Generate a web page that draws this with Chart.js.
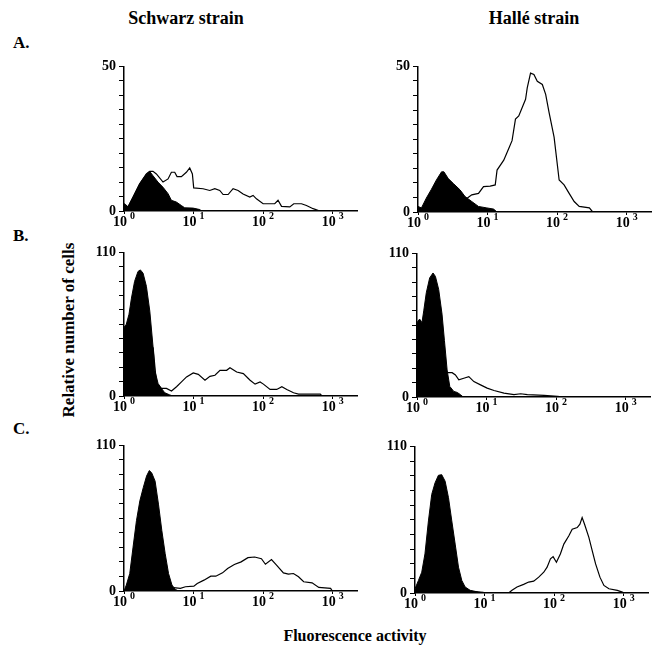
<!DOCTYPE html>
<html>
<head>
<meta charset="utf-8">
<script src="https://cdn.jsdelivr.net/npm/chart.js@4"></script>
<style>
  body { margin: 0; background: #fff; }
  #page { position: relative; width: 658px; height: 646px; overflow: hidden; font-family: 'Liberation Serif', 'Times New Roman', serif; font-weight: bold; color: #000; }
  .txt { position: absolute; white-space: nowrap; }
  canvas { position: absolute; }
</style>
</head>
<body>
<div id="page">
  <div class="txt" style="left:186px; top:18px; font-size:18px; transform:translate(-50%,-50%);">Schwarz strain</div>
  <div class="txt" style="left:534px; top:18px; font-size:18px; transform:translate(-50%,-50%);">Hallé strain</div>
  <div class="txt" style="left:13px; top:33px; font-size:17px;">A.</div>
  <div class="txt" style="left:13px; top:226px; font-size:17px;">B.</div>
  <div class="txt" style="left:13px; top:419px; font-size:17px;">C.</div>
  <div class="txt" style="left:69px; top:330px; font-size:17px; transform:translate(-50%,-50%) rotate(-90deg);">Relative number of cells</div>
  <div class="txt" style="left:355px; top:636px; font-size:16px; transform:translate(-50%,-50%);">Fluorescence activity</div>

  <canvas id="aLeft"></canvas>
  <canvas id="aRight"></canvas>
  <canvas id="bLeft"></canvas>
  <canvas id="bRight"></canvas>
  <canvas id="cLeft"></canvas>
  <canvas id="cRight"></canvas>
</div>

<script>
// ======================= Datos (fluorescencia / número de células) =======================
const decadeTicks = [1, 10, 100, 1000];
const decadeExp = ['0', '1', '2', '3'];

// A - Schwarz
const aLeftNegX = [1, 1.14, 1.35, 1.68, 2.10, 2.34, 2.61, 3.08, 3.64, 4.30, 4.80, 5.66, 6.68, 7.46, 9.84, 12.3, 13.0];
const aLeftNegY = [2.5, 1.4, 4.8, 9.4, 12.8, 13.7, 12.2, 10, 8.2, 6, 3.7, 3.1, 1.9, 1.1, 1, 0.5, 0];
const aLeftPosX = [1, 1.14, 1.35, 1.68, 2.10, 2.34, 2.61, 2.92, 3.64, 4.30, 4.80, 5.36, 5.79, 6.68, 7.88, 8.81, 9.62, 10.05, 13.7, 17.1, 20.2, 23.8, 26.6, 31.4, 37.0, 43.7, 51.5, 64.3, 71.8, 80.2, 100, 147, 164, 184, 242, 276, 356, 420, 524, 654];
const aLeftPosY = [2.5, 1.4, 4.8, 9.4, 12.8, 13.7, 13.7, 12.8, 10, 11.1, 13.4, 13.4, 11.9, 11.9, 13.4, 14.9, 12.8, 8, 7.7, 7.1, 7.7, 7.1, 5.7, 5.7, 7.7, 7.1, 5.9, 4.8, 5.4, 4.2, 2.5, 2.5, 3.7, 1.6, 1.4, 2.5, 2.5, 1.9, 0.8, 0];

// A - Hallé
const aRightNegX = [1, 1.12, 1.32, 1.56, 1.84, 2.18, 2.36, 2.72, 3.22, 4.02, 4.75, 5.93, 7.41, 9.78, 12.2, 13.7];
const aRightNegY = [1.9, 1.4, 4.8, 7.8, 11, 13.8, 13.8, 11.5, 9.8, 7.6, 5.3, 3.6, 1.9, 1.4, 1, 0];
const aRightPosX = [4.49, 5.93, 7.41, 8.75, 10.9, 12.9, 13.7, 17.1, 20.1, 22.5, 25.2, 28.1, 31.5, 35.2, 37.2, 41.5, 46.4, 51.9, 61.3, 68.5, 76.6, 90.5, 107, 126, 149, 176, 208, 291, 325];
const aRightPosY = [3.8, 5.9, 6.4, 8.7, 8.9, 9.3, 14.4, 17.8, 21.7, 24.5, 31.9, 33, 35.9, 38.7, 42.6, 47.7, 47.2, 44.9, 43.8, 40.4, 34.2, 25.7, 11, 9.3, 6.4, 3.6, 1.9, 1.4, 0];

// B - Schwarz
const bLeftNegX = [1, 1.08, 1.18, 1.28, 1.42, 1.59, 1.72, 1.88, 2.10, 2.35, 2.62, 2.77, 3.09, 3.45, 3.86, 4.56, 5.09];
const bLeftNegY = [52.5, 55, 62.6, 75, 87.8, 95.4, 96.6, 94.1, 84, 65, 37.3, 19.7, 9.6, 5.8, 2.5, 0.8, 0];
const bLeftPosX = [2.62, 2.93, 3.45, 4.08, 4.82, 5.69, 6.71, 7.93, 9.89, 11.7, 14.6, 17.2, 20.3, 24.0, 29.9, 33.4, 41.7, 52.0, 65.0, 76.7, 90.5, 101, 126, 157, 186, 219, 274, 323, 664, 702];
const bLeftPosY = [37.3, 9.6, 5.8, 5.8, 3.8, 7.1, 10.8, 14.6, 17.7, 16.6, 12.1, 15.1, 15.9, 19.7, 19.7, 21.7, 18.4, 17.2, 12.1, 9.1, 10.8, 9.1, 5, 5, 7.1, 5, 2.5, 1.5, 1.5, 0];

// B - Hallé
const bRightNegX = [1, 1.09, 1.18, 1.25, 1.36, 1.52, 1.70, 1.84, 2.05, 2.29, 2.48, 2.71, 2.96, 3.38, 3.78, 4.22, 4.61];
const bRightNegY = [57, 59.7, 57, 66, 79.8, 91.2, 95, 92.4, 82.4, 63.5, 43.3, 20.7, 8.1, 4.3, 3.5, 1.8, 0];
const bRightPosX = [2.56, 3.20, 3.57, 3.99, 4.71, 5.56, 6.57, 8.19, 10.2, 12.8, 17.8, 24.8, 30.9, 38.6, 67.1, 105, 130];
const bRightPosY = [18.6, 18.6, 16.9, 13.1, 14.4, 15.6, 11.8, 9.3, 6.8, 5, 3, 1.8, 2.5, 1.8, 1.3, 0.5, 0];

// C - Schwarz
const cLeftNegX = [1, 1.08, 1.21, 1.35, 1.51, 1.69, 1.89, 2.11, 2.31, 2.50, 2.80, 3.13, 3.50, 3.91, 4.37, 4.89, 5.47, 6.11];
const cLeftNegY = [0, 4.5, 13.2, 33.2, 53.1, 68.1, 78, 86.8, 91, 89.3, 83, 65.6, 45.6, 28.2, 13.2, 4.5, 1.2, 0];
const cLeftPosX = [5.17, 6.47, 7.65, 10.1, 11.3, 14.1, 17.7, 20.9, 26.1, 30.9, 38.6, 48.3, 60.5, 75.6, 94.6, 108, 132, 156, 196, 231, 273, 323, 383, 506, 632, 935, 989];
const cLeftPosY = [2.5, 2, 3.2, 3.7, 5.7, 8.2, 11.2, 11.2, 13.7, 17, 20, 22, 25.2, 25.7, 24.4, 20.2, 23.7, 19.5, 13.7, 12.7, 13.2, 10.7, 7, 6.2, 2.7, 2, 0];

// C - Hallé
const cRightNegX = [1, 1.12, 1.25, 1.39, 1.56, 1.74, 1.94, 2.17, 2.42, 2.71, 3.03, 3.38, 3.78, 4.22, 4.71, 5.26, 6.21, 8.19, 9.67];
const cRightNegY = [3.2, 9.4, 15.6, 29.3, 54.1, 74, 82.6, 88.3, 88.8, 83.9, 71.5, 54.1, 36.7, 19.4, 9.4, 4.5, 2, 0.7, 0];
const cRightPosX = [5.26, 9.67, 22.2, 24.8, 29.3, 36.5, 43.1, 50.9, 60.1, 71.0, 79.3, 88.6, 96.8, 108, 123, 138, 163, 182, 215, 235, 253, 274, 316, 353, 395, 456, 520, 614, 811, 957, 1010];
const cRightPosY = [1.5, 0.5, 0, 2, 4.5, 6.5, 8.2, 8.9, 11.9, 15.6, 19.4, 25.6, 27.3, 23.1, 29.3, 36.7, 42.9, 47.9, 49.1, 51.6, 56.6, 51.6, 41.7, 31.8, 21.8, 11.9, 5.7, 3.2, 2, 0.7, 0];


// ======================= Geometría de los paneles =======================
const EJE_Y_ANCHO = 44;
const EJE_X_ALTO = 28;
const PAD_TOP = 10;
const PAD_RIGHT = 8;
const PLOT_W = 233;
const X_MAX = 2239;
const FAMILIA = "'Liberation Serif', 'Times New Roman', serif";

function puntos(xs, ys) {
    return xs.map((x, i) => ({ x: x, y: ys[i] }));
}

// Etiquetas 10^n con exponente elevado (Chart.js no hace superíndices)
const etiquetasPotencia = {
    id: 'etiquetasPotencia',
    afterDraw(chart) {
        const ctx = chart.ctx;
        const xs = chart.scales.x;
        const baseY = chart.chartArea.bottom + 15;
        ctx.save();
        ctx.fillStyle = '#000';
        ctx.textBaseline = 'alphabetic';
        decadeTicks.forEach((v, i) => {
            const px = xs.getPixelForValue(v);
            ctx.font = 'bold 14px ' + FAMILIA;
            const w1 = ctx.measureText('10').width;
            ctx.font = 'bold 10px ' + FAMILIA;
            const w2 = ctx.measureText(decadeExp[i]).width;
            const gap = 3;
            const start = px - (w1 + gap + w2) / 2;
            ctx.font = 'bold 14px ' + FAMILIA;
            ctx.fillText('10', start, baseY);
            ctx.font = 'bold 10px ' + FAMILIA;
            ctx.fillText(decadeExp[i], start + w1 + gap, baseY - 7);
        });
        ctx.restore();
    }
};

function crearPanel(id, left, top, bottom, yMax, negX, negY, posX, posY) {
    const canvas = document.getElementById(id);
    const w = EJE_Y_ANCHO + PLOT_W + PAD_RIGHT;
    const h = PAD_TOP + (bottom - top) + EJE_X_ALTO;
    canvas.width = w;
    canvas.height = h;
    canvas.style.left = (left - EJE_Y_ANCHO) + 'px';
    canvas.style.top = (top - PAD_TOP) + 'px';
    canvas.style.width = w + 'px';
    canvas.style.height = h + 'px';

    return new Chart(canvas, {
        type: 'line',
        data: {
            datasets: [
                {
                    label: 'positivo',
                    data: puntos(posX, posY),
                    borderColor: '#000',
                    borderWidth: 1.2,
                    pointRadius: 0,
                    fill: false,
                    tension: 0,
                    order: 0
                },
                {
                    label: 'control',
                    data: puntos(negX, negY),
                    borderColor: '#000',
                    backgroundColor: '#000',
                    borderWidth: 1,
                    pointRadius: 0,
                    fill: 'origin',
                    tension: 0,
                    order: 1
                }
            ]
        },
        options: {
            responsive: false,
            animation: false,
            devicePixelRatio: 1,
            layout: { padding: { top: PAD_TOP, right: PAD_RIGHT, left: 0, bottom: 0 } },
            plugins: { legend: { display: false }, tooltip: { enabled: false } },
            scales: {
                x: {
                    type: 'logarithmic',
                    min: 1,
                    max: X_MAX,
                    afterBuildTicks: scale => { scale.ticks = decadeTicks.map(v => ({ value: v })); },
                    afterFit: scale => { scale.height = EJE_X_ALTO; },
                    border: { display: true, color: '#000', width: 1.5 },
                    grid: { drawOnChartArea: false, drawTicks: true, tickLength: 3, color: '#000' },
                    ticks: { display: false }
                },
                y: {
                    min: 0,
                    max: yMax,
                    afterBuildTicks: scale => {
                        const t = [];
                        for (let k = 0; k <= 10; k++) t.push({ value: yMax * k / 10 });
                        scale.ticks = t;
                    },
                    afterFit: scale => { scale.width = EJE_Y_ANCHO; },
                    border: { display: true, color: '#000', width: 1.5 },
                    grid: { drawOnChartArea: false, drawTicks: true, tickLength: 5, color: '#000' },
                    ticks: {
                        autoSkip: false,
                        padding: 3,
                        color: '#000',
                        font: { family: FAMILIA, weight: 'bold', size: 14 },
                        callback: value => (value === 0 || value === yMax) ? String(value) : ''
                    }
                }
            }
        },
        plugins: [etiquetasPotencia]
    });
}

crearPanel('aLeft', 124, 65, 211, 50, aLeftNegX, aLeftNegY, aLeftPosX, aLeftPosY);
crearPanel('aRight', 418, 65, 212, 50, aRightNegX, aRightNegY, aRightPosX, aRightPosY);
crearPanel('bLeft', 124, 251, 396, 110, bLeftNegX, bLeftNegY, bLeftPosX, bLeftPosY);
crearPanel('bRight', 417, 252, 397, 110, bRightNegX, bRightNegY, bRightPosX, bRightPosY);
crearPanel('cLeft', 124, 444, 591, 110, cLeftNegX, cLeftNegY, cLeftPosX, cLeftPosY);
crearPanel('cRight', 415, 445, 593, 110, cRightNegX, cRightNegY, cRightPosX, cRightPosY);
</script>
</body>
</html>
